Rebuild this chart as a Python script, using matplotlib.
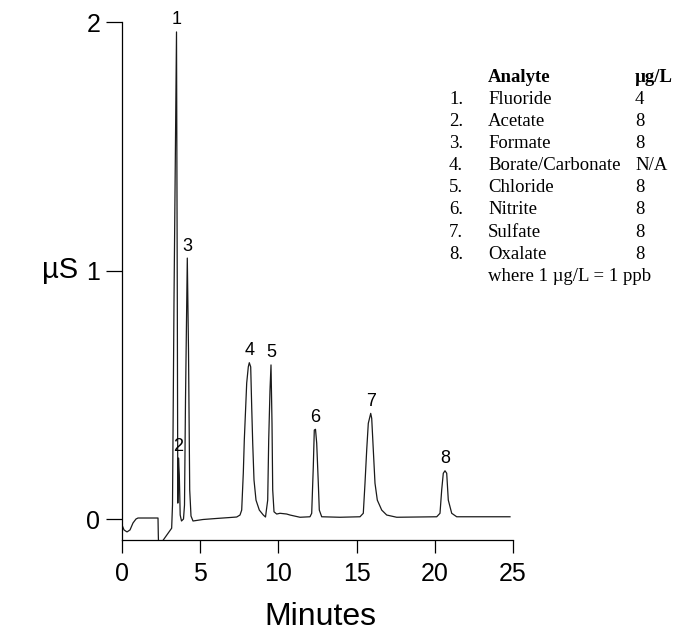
import numpy as np
import matplotlib
matplotlib.use("Agg")
import matplotlib.pyplot as plt


# 1. Data

time_min = [
    0.000, 0.128, 0.320, 0.512, 0.703, 0.895, 1.023, 2.302, 2.320, 2.340,
    3.175, 3.229, 3.325, 3.485, 3.536, 3.568, 3.613, 3.664, 3.721, 3.804,
    3.932, 3.996, 4.060, 4.175, 4.252, 4.329, 4.412, 4.540, 5.179, 6.010,
    6.905, 7.334, 7.545, 7.653, 7.756, 7.820, 7.909, 7.973, 8.075, 8.139,
    8.229, 8.293, 8.357, 8.440, 8.568, 8.779, 9.035, 9.175, 9.316, 9.380,
    9.463, 9.527, 9.591, 9.636, 9.719, 9.891, 10.102, 10.531, 10.742, 11.381,
    12.020, 12.129, 12.231, 12.295, 12.372, 12.449, 12.551, 12.615, 12.769, 13.939,
    15.217, 15.428, 15.537, 15.646, 15.748, 15.902, 15.966, 16.068, 16.176, 16.324,
    16.605, 16.925, 17.564, 20.122, 20.332, 20.441, 20.543, 20.652, 20.761, 20.863,
    21.081, 21.400, 24.808,
]

signal_us = [
    -0.024, -0.044, -0.052, -0.044, -0.016, 0.000, 0.004, 0.004, -0.060, -0.111,
    -0.037, 0.056, 0.881, 1.960, 0.881, 0.064, 0.245, 0.177, 0.016, -0.008,
    0.000, 0.056, 0.479, 1.050, 0.680, 0.117, 0.012, -0.008, -0.002, 0.002,
    0.006, 0.008, 0.016, 0.036, 0.185, 0.318, 0.451, 0.547, 0.612, 0.629,
    0.612, 0.451, 0.306, 0.157, 0.076, 0.036, 0.016, 0.008, 0.076, 0.318,
    0.519, 0.620, 0.386, 0.117, 0.029, 0.020, 0.023, 0.020, 0.016, 0.007,
    0.009, 0.023, 0.210, 0.358, 0.361, 0.305, 0.145, 0.036, 0.009, 0.007,
    0.009, 0.023, 0.144, 0.278, 0.385, 0.425, 0.405, 0.278, 0.144, 0.076,
    0.036, 0.016, 0.007, 0.009, 0.023, 0.117, 0.184, 0.194, 0.184, 0.076,
    0.023, 0.009, 0.009,
]

# peak tops used for the number labels
peak_numbers = ["1", "2", "3", "4", "5", "6", "7", "8"]
peak_times = [3.485, 3.613, 4.175, 8.139, 9.527, 12.372, 15.902, 20.652]
peak_heights = [1.960, 0.245, 1.050, 0.629, 0.620, 0.361, 0.425, 0.194]

# analyte table
analytes = ["Fluoride", "Acetate", "Formate", "Borate/Carbonate",
            "Chloride", "Nitrite", "Sulfate", "Oxalate"]
concentrations = ["4", "8", "8", "N/A", "8", "8", "8", "8"]

x_ticks = [0, 5, 10, 15, 20, 25]
y_ticks = [0, 1, 2]


# 2. Plot

plt.rcParams["font.family"] = ["Liberation Sans", "DejaVu Sans"]

fig = plt.figure(figsize=(6.81, 6.32), dpi=100)
ax = fig.add_axes([122 / 681, (632 - 540) / 632, 391 / 681, 518 / 632])

ax.plot(time_min, signal_us, color="#1a1a1a", linewidth=0.9)

ax.set_xlim(0, 25)
ax.set_ylim(-0.0845, 2.0)

ax.spines["top"].set_visible(False)
ax.spines["right"].set_visible(False)
for side in ["left", "bottom"]:
    ax.spines[side].set_linewidth(0.9)

ax.set_xticks(x_ticks)
ax.set_yticks(y_ticks)
ax.tick_params(axis="x", direction="out", length=9.5, width=0.9,
               pad=6, labelsize=18)
ax.tick_params(axis="y", direction="out", length=11.5, width=0.9,
               pad=4, labelsize=18)

for num, t, v in zip(peak_numbers, peak_times, peak_heights):
    ax.annotate(num, (t, v), xytext=(0, 2.5), textcoords="offset points",
                ha="center", va="bottom", fontsize=13, clip_on=False)

fig.text(60 / 681, 1 - 270 / 632, "µS", fontsize=21, ha="center", va="center")
fig.text(320 / 681, 1 - 617 / 632, "Minutes", fontsize=23,
         ha="center", va="center")

# analyte table in serif
serif = ["Liberation Serif", "DejaVu Serif"]
table_size = 13.5
num_x = 449 / 681
name_x = 488 / 681
conc_x = 635 / 681
header_y = 82
row_y0 = 104
row_gap = 22.1

fig.text(name_x, 1 - header_y / 632, "Analyte", family=serif,
         fontsize=table_size, fontweight="bold", va="baseline")
fig.text(conc_x, 1 - header_y / 632, "µg/L", family=serif,
         fontsize=table_size, fontweight="bold", va="baseline")

for i, (name, conc) in enumerate(zip(analytes, concentrations)):
    y = 1 - (row_y0 + i * row_gap) / 632
    fig.text(num_x, y, f"{i + 1}.", family=serif, fontsize=table_size,
             va="baseline")
    fig.text(name_x, y, name, family=serif, fontsize=table_size, va="baseline")
    fig.text(conc_x, y, conc, family=serif, fontsize=table_size, va="baseline")

fig.text(name_x, 1 - (row_y0 + 8 * row_gap) / 632, "where 1 µg/L = 1 ppb",
         family=serif, fontsize=table_size, va="baseline")

fig.savefig("out.png", dpi=100)
